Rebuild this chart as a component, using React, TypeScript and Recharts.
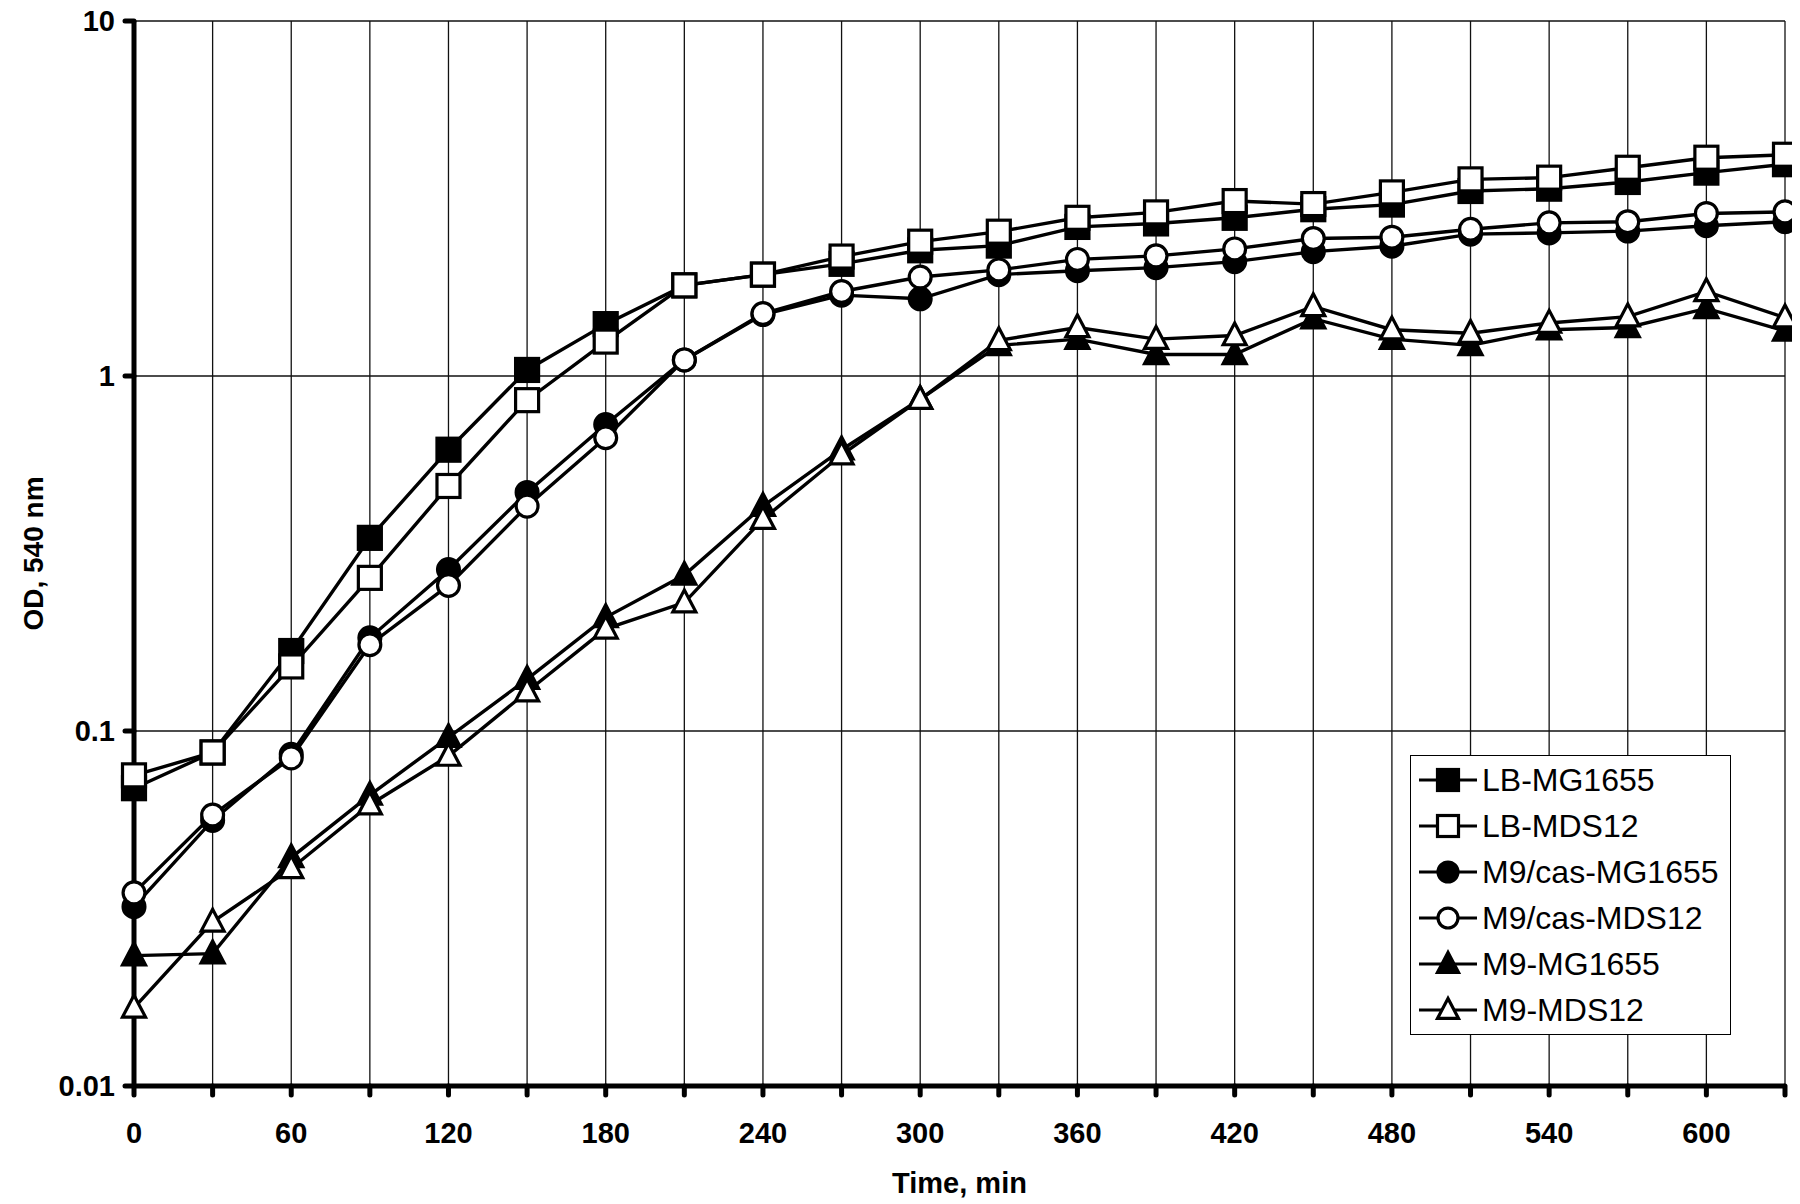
import React from 'react';
import { LineChart, Line, XAxis, YAxis, CartesianGrid, Legend, Label } from 'recharts';

// time points (min)
const times = [0, 30, 60, 90, 120, 150, 180, 210, 240, 270, 300, 330, 360, 390, 420, 450, 480, 510, 540, 570, 600, 630];

// OD 540 nm
const lbMG1655 = [0.069, 0.087, 0.168, 0.35, 0.62, 1.04, 1.4, 1.8, 1.93, 2.07, 2.26, 2.33, 2.63, 2.69, 2.79, 2.95, 3.04, 3.32, 3.37, 3.52, 3.74, 3.95];
const lbMDS12 = [0.075, 0.087, 0.152, 0.27, 0.49, 0.855, 1.25, 1.8, 1.93, 2.17, 2.39, 2.55, 2.79, 2.89, 3.11, 3.05, 3.29, 3.58, 3.62, 3.86, 4.12, 4.2];
const m9casMG1655 = [0.032, 0.056, 0.086, 0.183, 0.285, 0.47, 0.73, 1.11, 1.49, 1.69, 1.65, 1.93, 1.98, 2.02, 2.1, 2.24, 2.32, 2.51, 2.53, 2.56, 2.65, 2.72];
const m9casMDS12 = [0.035, 0.058, 0.084, 0.175, 0.257, 0.43, 0.67, 1.11, 1.5, 1.73, 1.9, 1.99, 2.13, 2.18, 2.28, 2.44, 2.46, 2.59, 2.7, 2.72, 2.87, 2.9];
const m9MG1655 = [0.0233, 0.0236, 0.044, 0.066, 0.096, 0.14, 0.209, 0.275, 0.43, 0.62, 0.86, 1.22, 1.27, 1.15, 1.15, 1.45, 1.27, 1.22, 1.35, 1.37, 1.55, 1.34];
const m9MDS12 = [0.0166, 0.029, 0.041, 0.062, 0.085, 0.129, 0.194, 0.23, 0.395, 0.6, 0.86, 1.26, 1.37, 1.27, 1.3, 1.57, 1.35, 1.32, 1.41, 1.47, 1.73, 1.46];

const yTicks = [0.01, 0.1, 1, 10];

type Shape = 'square' | 'circle' | 'triangle';

type Series = {
  key: string;
  name: string;
  shape: Shape;
  filled: boolean;
  values: number[];
};

const series: Series[] = [
  { key: 'lbMG', name: 'LB-MG1655', shape: 'square', filled: true, values: lbMG1655 },
  { key: 'lbMDS', name: 'LB-MDS12', shape: 'square', filled: false, values: lbMDS12 },
  { key: 'casMG', name: 'M9/cas-MG1655', shape: 'circle', filled: true, values: m9casMG1655 },
  { key: 'casMDS', name: 'M9/cas-MDS12', shape: 'circle', filled: false, values: m9casMDS12 },
  { key: 'm9MG', name: 'M9-MG1655', shape: 'triangle', filled: true, values: m9MG1655 },
  { key: 'm9MDS', name: 'M9-MDS12', shape: 'triangle', filled: false, values: m9MDS12 },
];

const data = times.map((t, i) => {
  const row: { [k: string]: number } = { t };
  series.forEach((s) => {
    row[s.key] = s.values[i];
  });
  return row;
});

const FONT = '"Liberation Sans", Arial, Helvetica, sans-serif';

const Marker = ({ cx, cy, shape, filled, size = 23 }: any) => {
  const fill = filled ? '#000' : '#fff';
  const h = size / 2;
  if (shape === 'square') {
    return <rect x={cx - h} y={cy - h} width={size} height={size} fill={fill} stroke="#000" strokeWidth={3.2} />;
  }
  if (shape === 'circle') {
    return <circle cx={cx} cy={cy} r={h * 0.95} fill={fill} stroke="#000" strokeWidth={3.2} />;
  }
  const pts = `${cx},${cy - h * 1.1} ${cx - h},${cy + h * 0.8} ${cx + h},${cy + h * 0.8}`;
  return <polygon points={pts} fill={fill} stroke="#000" strokeWidth={3.2} strokeLinejoin="miter" />;
};

const XTick = ({ x, y, payload }: any) => {
  const v = payload.value;
  if (v % 60 !== 0 || v > 600) return <g />;
  return (
    <text x={x} y={y} dy="0.71em" textAnchor="middle" fontFamily={FONT} fontWeight="bold" fontSize={29} fill="#000">
      {v}
    </text>
  );
};

const YTick = ({ x, y, payload }: any) => (
  <text x={x} y={y} dy="0.36em" textAnchor="end" fontFamily={FONT} fontWeight="bold" fontSize={29} fill="#000">
    {String(payload.value)}
  </text>
);

const LegendBox = () => (
  <div
    style={{
      width: 321,
      border: '1.5px solid #000',
      background: '#fff',
      fontFamily: FONT,
      fontSize: 32,
      color: '#000',
      boxSizing: 'border-box',
      paddingTop: 1,
      paddingBottom: 1,
    }}
  >
    {series.map((s) => (
      <div key={s.key} style={{ display: 'flex', alignItems: 'center', height: 46 }}>
        <svg width={71} height={46} style={{ display: 'block', flex: 'none' }}>
          <line x1={8} x2={66} y1={23} y2={23} stroke="#000" strokeWidth={3} />
          <Marker cx={37} cy={23} shape={s.shape} filled={s.filled} size={21} />
        </svg>
        <span style={{ whiteSpace: 'nowrap', lineHeight: '46px' }}>{s.name}</span>
      </div>
    ))}
  </div>
);

export default function App() {
  return (
    <div style={{ width: 1800, height: 1204, margin: '-8px 0 0 -8px', fontFamily: FONT }}>
      <LineChart width={1800} height={1204} data={data} margin={{ top: 21, right: 15, left: 0, bottom: 46 }}>
        <CartesianGrid stroke="#111" strokeWidth={1.3} />
        <XAxis
          dataKey="t"
          type="number"
          domain={[0, 630]}
          ticks={times}
          interval={0}
          height={72}
          axisLine={{ stroke: '#000', strokeWidth: 5 }}
          tickLine={{ stroke: '#000', strokeWidth: 5, strokeLinecap: 'round' }}
          tickSize={9}
          tickMargin={27}
          tick={<XTick />}
        >
          <Label
            content={({ viewBox }: any) => (
              <text
                x={viewBox.x + viewBox.width / 2}
                y={viewBox.y + 107}
                textAnchor="middle"
                fontFamily={FONT}
                fontWeight="bold"
                fontSize={29}
                fill="#000"
              >
                Time, min
              </text>
            )}
          />
        </XAxis>
        <YAxis
          scale="log"
          domain={[0.01, 10]}
          ticks={yTicks}
          allowDataOverflow
          width={134}
          axisLine={{ stroke: '#000', strokeWidth: 5 }}
          tickLine={{ stroke: '#000', strokeWidth: 5, strokeLinecap: 'round' }}
          tickSize={9}
          tickMargin={10}
          tick={<YTick />}
        >
          <Label
            content={({ viewBox }: any) => {
              const cx = viewBox.x + 33;
              const cy = viewBox.y + viewBox.height / 2;
              return (
                <text
                  x={cx}
                  y={cy}
                  transform={`rotate(-90, ${cx}, ${cy})`}
                  textAnchor="middle"
                  dominantBaseline="central"
                  fontFamily={FONT}
                  fontWeight="bold"
                  fontSize={28}
                  fill="#000"
                >
                  OD, 540 nm
                </text>
              );
            }}
          />
        </YAxis>
        <Legend
          layout="vertical"
          align="center"
          verticalAlign="middle"
          content={<LegendBox />}
          wrapperStyle={{ left: 1410, top: 755, width: 321 }}
        />
        {series.map((s) => (
          <Line
            key={s.key}
            dataKey={s.key}
            name={s.name}
            type="linear"
            stroke="#000"
            strokeWidth={3.4}
            isAnimationActive={false}
            dot={(p: any) => (
              <Marker key={`${s.key}-${p.index}`} cx={p.cx} cy={p.cy} shape={s.shape} filled={s.filled} />
            )}
            activeDot={false}
          />
        ))}
      </LineChart>
    </div>
  );
}
